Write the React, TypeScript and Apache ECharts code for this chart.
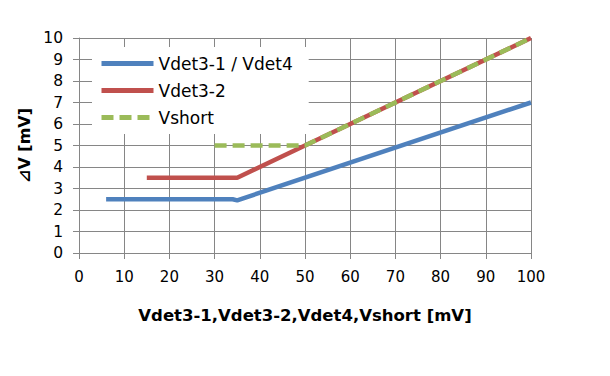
import React, { useEffect, useRef } from "react";
import * as echarts from "echarts";

const xTicks = [0, 10, 20, 30, 40, 50, 60, 70, 80, 90, 100];
const vdet31: [number, number][] = [
  [6, 2.5],
  [25, 2.5],
  [34, 2.5],
  [35, 2.45],
  [100, 7],
];
const vdet32: [number, number][] = [
  [15, 3.5],
  [25, 3.5],
  [35, 3.5],
  [50, 5],
  [100, 10],
];
const vshort: [number, number][] = [
  [30, 5],
  [50, 5],
  [100, 10],
];
const seriesNames = ["Vdet3-1 / Vdet4", "Vdet3-2", "Vshort"];

const FONT = "DejaVu Sans";
const GRID = "#868686";

export default function App() {
  const ref = useRef<HTMLDivElement>(null);
  useEffect(() => {
    if (!ref.current) return;
    const chart = echarts.init(ref.current, undefined, { renderer: "svg" });
    chart.setOption({
      animation: false,
      backgroundColor: "#ffffff",
      textStyle: { fontFamily: FONT },
      grid: { left: 79, right: 79, top: 38, bottom: 123, containLabel: false },
      legend: {
        left: 92,
        top: 47,
        orient: "vertical",
        backgroundColor: "#ffffff",
        padding: [8, 16, 8, 7],
        itemWidth: 52,
        itemHeight: 14,
        itemGap: 10,
        itemStyle: { opacity: 0 },
        lineStyle: { width: 5 },
        textStyle: { fontFamily: FONT, fontSize: 17, color: "#000" },
        data: seriesNames,
      },
      xAxis: {
        type: "value",
        min: 0,
        max: 100,
        interval: 10,
        name: "Vdet3-1,Vdet3-2,Vdet4,Vshort [mV]",
        nameLocation: "middle",
        nameGap: 54,
        nameTextStyle: { fontFamily: FONT, fontSize: 16.5, fontWeight: "bold", color: "#000" },
        axisLine: { show: true, lineStyle: { color: GRID, width: 1 } },
        axisTick: { show: true, length: 6, lineStyle: { color: GRID } },
        axisLabel: { fontFamily: FONT, fontSize: 15, color: "#000", margin: 16 },
        splitLine: { show: true, lineStyle: { color: GRID, width: 1 } },
      },
      yAxis: {
        type: "value",
        min: 0,
        max: 10,
        interval: 1,
        name: "⊿V [mV]",
        nameLocation: "middle",
        nameGap: 20,
        nameTextStyle: { fontFamily: FONT, fontSize: 16, fontWeight: "bold", color: "#000" },
        axisLine: { show: true, lineStyle: { color: GRID, width: 1 } },
        axisTick: { show: true, length: 6, lineStyle: { color: GRID } },
        axisLabel: { fontFamily: FONT, fontSize: 15.5, color: "#000", margin: 16 },
        splitLine: { show: true, lineStyle: { color: GRID, width: 1 } },
      },
      series: [
        {
          name: seriesNames[0],
          type: "line",
          data: vdet31,
          symbol: "none",
          color: "#4F81BD",
          lineStyle: { width: 4.5, color: "#4F81BD" },
          z: 3,
        },
        {
          name: seriesNames[1],
          type: "line",
          data: vdet32,
          symbol: "none",
          color: "#C0504D",
          lineStyle: { width: 4.5, color: "#C0504D" },
          z: 4,
        },
        {
          name: seriesNames[2],
          type: "line",
          data: vshort,
          symbol: "none",
          color: "#9BBB59",
          lineStyle: { width: 4.5, color: "#9BBB59", type: [12, 6] },
          z: 5,
        },
      ],
    });
    return () => chart.dispose();
  }, []);
  return <div ref={ref} style={{ width: 610, height: 376, position: "absolute", left: 0, top: 0 }} />;
}
